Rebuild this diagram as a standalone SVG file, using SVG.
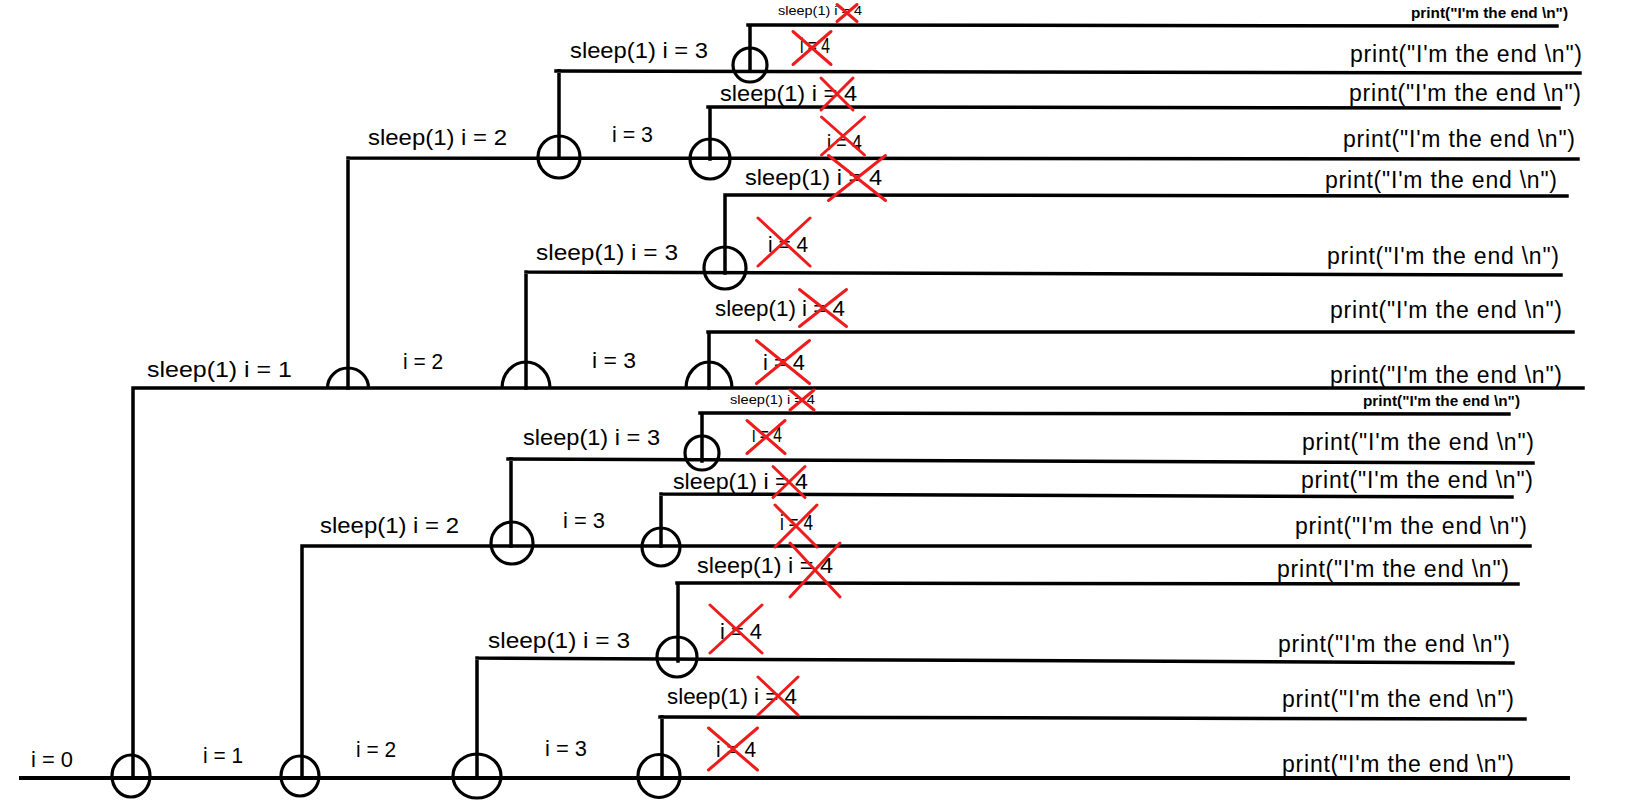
<svg xmlns="http://www.w3.org/2000/svg" width="1638" height="801" viewBox="0 0 1638 801">
<style>
.ln{stroke:#000;stroke-width:3.5;fill:none;stroke-linecap:square}
.c{stroke:#000;stroke-width:3.2;fill:none}
.t{font-family:"Liberation Sans",Arial,sans-serif;font-size:22px;fill:#000;white-space:pre}
.p{font-size:23px}
.s{font-size:13px}
.sp{font-size:15px;font-weight:bold}
.x{stroke:#ee1c1c;stroke-width:3;fill:none;stroke-linecap:round}
</style>
<rect width="1638" height="801" fill="#fff"/>
<g id="connectors">
<path class="ln" d="M748,25 L1557,26 M750,25 L750,71"/>
<path class="ln" d="M556,71 L1580,73 M559,71 L559,158"/>
<path class="ln" d="M708,107 L1559,108 M710,107 L710,159"/>
<path class="ln" d="M348,158 L1578,159 M348,158 L348,388"/>
<path class="ln" d="M725,195 L1567,196 M725,195 L725,273"/>
<path class="ln" d="M526,272 L1561,275 M526,272 L526,388"/>
<path class="ln" d="M708,332 L1573,332 M709,332 L709,388"/>
<path class="ln" d="M133,388 L1583,388 M133,388 L133,778"/>
<path class="ln" d="M700,413 L1509,414 M702,413 L702,461"/>
<path class="ln" d="M508,459 L1533,463 M511,459 L511,546"/>
<path class="ln" d="M661,494 L1512,497 M661,494 L661,546"/>
<path class="ln" d="M302,546 L1530,546 M302,546 L302,778"/>
<path class="ln" d="M677,583 L1518,584 M678,583 L678,661"/>
<path class="ln" d="M477,658 L1513,663 M477,658 L477,778"/>
<path class="ln" d="M660,717 L1525,719 M662,717 L662,778"/>
<path class="ln" d="M21,778 L1568,778" style="stroke-width:4"/>
</g>
<g id="forks">
<g id="fork-c1"><circle class="c" cx="750" cy="65" r="17"/></g>
<g id="fork-c2"><circle class="c" cx="559" cy="157" r="21"/></g>
<g id="fork-c3"><circle class="c" cx="710" cy="159" r="20"/></g>
<g id="fork-c4"><circle class="c" cx="725" cy="268" r="21"/></g>
<g id="fork-h1"><path class="c" d="M327.5,388 A20.5,20 0 0 1 368.5,388"/></g>
<g id="fork-h2"><path class="c" d="M502,388 A24,26 0 0 1 550,388"/></g>
<g id="fork-h3"><path class="c" d="M686,388 A23,26 0 0 1 732,388"/></g>
<g id="fork-c5"><circle class="c" cx="702" cy="453" r="17"/></g>
<g id="fork-c6"><circle class="c" cx="512" cy="543" r="21"/></g>
<g id="fork-c7"><circle class="c" cx="661" cy="547" r="19"/></g>
<g id="fork-c8"><circle class="c" cx="677" cy="657" r="20"/></g>
<g id="fork-t1"><ellipse class="c" cx="131" cy="776" rx="19" ry="21"/></g>
<g id="fork-t2"><ellipse class="c" cx="300" cy="776" rx="19" ry="20"/></g>
<g id="fork-t3"><ellipse class="c" cx="477" cy="776" rx="24" ry="22"/></g>
<g id="fork-t4"><ellipse class="c" cx="659" cy="776" rx="21" ry="21.5"/></g>
</g>
<g id="labels" class="t" xml:space="preserve">
<text class="s" x="778" y="15" textLength="84" lengthAdjust="spacingAndGlyphs">sleep(1) i = 4</text>
<text x="570" y="58" textLength="138" lengthAdjust="spacingAndGlyphs">sleep(1)  i = 3</text>
<text x="800" y="53" textLength="30" lengthAdjust="spacingAndGlyphs">i = 4</text>
<text x="720" y="101" textLength="137" lengthAdjust="spacingAndGlyphs">sleep(1)  i = 4</text>
<text x="368" y="145" textLength="139" lengthAdjust="spacingAndGlyphs">sleep(1)  i = 2</text>
<text x="612" y="142" textLength="41" lengthAdjust="spacingAndGlyphs">i = 3</text>
<text x="827" y="150" textLength="35" lengthAdjust="spacingAndGlyphs">i = 4</text>
<text x="745" y="185" textLength="137" lengthAdjust="spacingAndGlyphs">sleep(1)  i = 4</text>
<text x="768" y="252" textLength="40" lengthAdjust="spacingAndGlyphs">i = 4</text>
<text x="536" y="260" textLength="142" lengthAdjust="spacingAndGlyphs">sleep(1)   i = 3</text>
<text x="715" y="316" textLength="130" lengthAdjust="spacingAndGlyphs">sleep(1) i = 4</text>
<text x="763" y="370" textLength="42" lengthAdjust="spacingAndGlyphs">i = 4</text>
<text x="147" y="377" textLength="145" lengthAdjust="spacingAndGlyphs">sleep(1)   i = 1</text>
<text x="403" y="369" textLength="40" lengthAdjust="spacingAndGlyphs">i = 2</text>
<text x="592" y="368" textLength="44" lengthAdjust="spacingAndGlyphs">i = 3</text>
<text class="s" x="730" y="404" textLength="85" lengthAdjust="spacingAndGlyphs">sleep(1) i = 4</text>
<text x="752" y="442" textLength="30" lengthAdjust="spacingAndGlyphs">i = 4</text>
<text x="523" y="445" textLength="137" lengthAdjust="spacingAndGlyphs">sleep(1)  i = 3</text>
<text x="673" y="489" textLength="135" lengthAdjust="spacingAndGlyphs">sleep(1)  i = 4</text>
<text x="780" y="530" textLength="33" lengthAdjust="spacingAndGlyphs">i = 4</text>
<text x="563" y="528" textLength="42" lengthAdjust="spacingAndGlyphs">i = 3</text>
<text x="320" y="533" textLength="139" lengthAdjust="spacingAndGlyphs">sleep(1)  i = 2</text>
<text x="697" y="573" textLength="136" lengthAdjust="spacingAndGlyphs">sleep(1)  i = 4</text>
<text x="720" y="639" textLength="42" lengthAdjust="spacingAndGlyphs">i = 4</text>
<text x="488" y="648" textLength="142" lengthAdjust="spacingAndGlyphs">sleep(1)   i = 3</text>
<text x="667" y="704" textLength="130" lengthAdjust="spacingAndGlyphs">sleep(1) i = 4</text>
<text x="716" y="757" textLength="40" lengthAdjust="spacingAndGlyphs">i = 4</text>
<text x="31" y="767" textLength="42" lengthAdjust="spacingAndGlyphs">i = 0</text>
<text x="203" y="763" textLength="40" lengthAdjust="spacingAndGlyphs">i = 1</text>
<text x="356" y="757" textLength="40" lengthAdjust="spacingAndGlyphs">i = 2</text>
<text x="545" y="756" textLength="42" lengthAdjust="spacingAndGlyphs">i = 3</text>
</g>
<g id="prints" class="t" xml:space="preserve">
<text class="sp" x="1411" y="18" textLength="157" lengthAdjust="spacingAndGlyphs">print("I'm the end \n")</text>
<text class="p" x="1350" y="62" textLength="232">print("I'm the end \n")</text>
<text class="p" x="1349" y="101" textLength="232">print("I'm the end \n")</text>
<text class="p" x="1343" y="147" textLength="232">print("I'm the end \n")</text>
<text class="p" x="1325" y="188" textLength="232">print("I'm the end \n")</text>
<text class="p" x="1327" y="264" textLength="232">print("I'm the end \n")</text>
<text class="p" x="1330" y="318" textLength="232">print("I'm the end \n")</text>
<text class="p" x="1330" y="383" textLength="232">print("I'm the end \n")</text>
<text class="sp" x="1363" y="406" textLength="157" lengthAdjust="spacingAndGlyphs">print("I'm the end \n")</text>
<text class="p" x="1302" y="450" textLength="232">print("I'm the end \n")</text>
<text class="p" x="1301" y="488" textLength="232">print("I'm the end \n")</text>
<text class="p" x="1295" y="534" textLength="232">print("I'm the end \n")</text>
<text class="p" x="1277" y="577" textLength="232">print("I'm the end \n")</text>
<text class="p" x="1278" y="652" textLength="232">print("I'm the end \n")</text>
<text class="p" x="1282" y="707" textLength="232">print("I'm the end \n")</text>
<text class="p" x="1282" y="772" textLength="232">print("I'm the end \n")</text>
</g>
<g id="crosses" class="x">
<path d="M837,4.5 L857,21.5 M857,4.5 L837,21.5"/>
<path d="M793,31.5 L831,64.5 M831,31.5 L793,64.5"/>
<path d="M821,78 L853,110 M853,78 L821,110"/>
<path d="M821.5,117 L864.5,155 M864.5,117 L821.5,155"/>
<path d="M828.5,155.5 L885.5,200.5 M885.5,155.5 L828.5,200.5"/>
<path d="M758,218 L810,266 M810,218 L758,266"/>
<path d="M799.5,289.5 L846.5,326.5 M846.5,289.5 L799.5,326.5"/>
<path d="M756.5,340.5 L809.5,383.5 M809.5,340.5 L756.5,383.5"/>
<path d="M790,390 L814,410 M814,390 L790,410"/>
<path d="M747,420.5 L785,453.5 M785,420.5 L747,453.5"/>
<path d="M773,466.5 L805,497.5 M805,466.5 L773,497.5"/>
<path d="M775,505 L817,547 M817,505 L775,547"/>
<path d="M790,543 L840,597 M840,543 L790,597"/>
<path d="M710,605 L762,653 M762,605 L710,653"/>
<path d="M758,677 L798,715 M798,677 L758,715"/>
<path d="M708.5,728 L757.5,770 M757.5,728 L708.5,770"/>
</g>
</svg>
